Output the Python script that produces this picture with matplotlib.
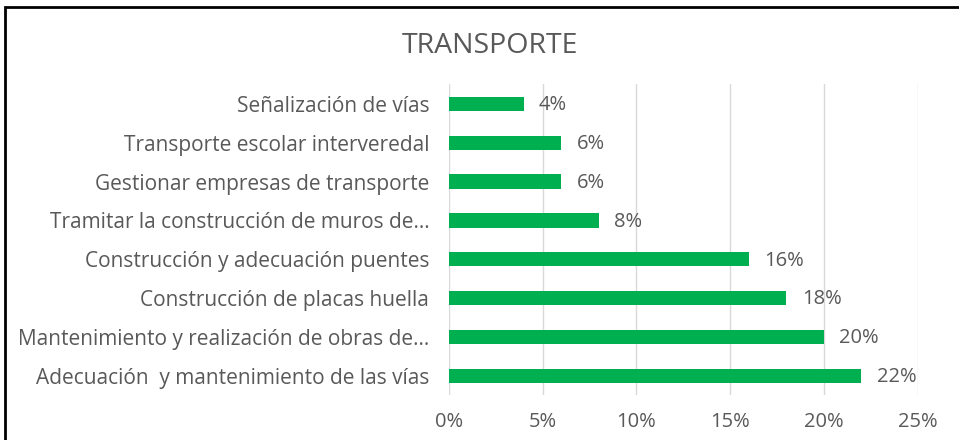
import matplotlib
matplotlib.use("Agg")
import matplotlib.pyplot as plt
from matplotlib.patches import Rectangle

# Data (bottom to top as drawn)
categories = [
    "Adecuación  y mantenimiento de las vías",
    "Mantenimiento y realización de obras de...",
    "Construcción de placas huella",
    "Construcción y adecuación puentes",
    "Tramitar la construcción de muros de...",
    "Gestionar empresas de transporte",
    "Transporte escolar interveredal",
    "Señalización de vías",
]
values = [22, 20, 18, 16, 8, 6, 6, 4]
xticks = [0, 5, 10, 15, 20, 25]

plt.rcParams["font.family"] = ["Open Sans", "DejaVu Sans"]
text_color = "#595959"
bar_color = "#00B050"

fig = plt.figure(figsize=(9.59, 4.40), dpi=100)
ax = fig.add_axes([0.468, 0.102, 0.489, 0.706])

y = range(len(categories))
ax.barh(y, values, height=0.37, color=bar_color, zorder=3)

for yi, v in zip(y, values):
    ax.annotate(f"{v}%", (v, yi), xytext=(11, -1), textcoords="offset points",
                va="center", ha="left", fontsize=14.5, color=text_color)

ax.set_xlim(0, 25)
ax.set_ylim(-0.5, len(categories) - 0.5)
ax.set_xticks(xticks)
ax.set_xticklabels([f"{t}%" for t in xticks], fontsize=14.5, color=text_color)
ax.set_yticks(list(y))
ax.set_yticklabels(categories, fontsize=15, color=text_color)
ax.tick_params(axis="both", length=0)
ax.tick_params(axis="y", pad=14)
ax.tick_params(axis="x", pad=12)
ax.grid(axis="x", color="#d9d9d9", linewidth=1, zorder=0)
for s in ax.spines.values():
    s.set_visible(False)

fig.text(0.511, 0.895, "TRANSPORTE", ha="center", va="center",
         fontsize=20.5, color=text_color)

# outer frame
fig.patches.append(Rectangle((5 / 959, -0.05), 1.1, 1 - 7 / 440 + 0.05,
                             transform=fig.transFigure, fill=False,
                             edgecolor="black", linewidth=2))

fig.savefig("out.png", dpi=100)
